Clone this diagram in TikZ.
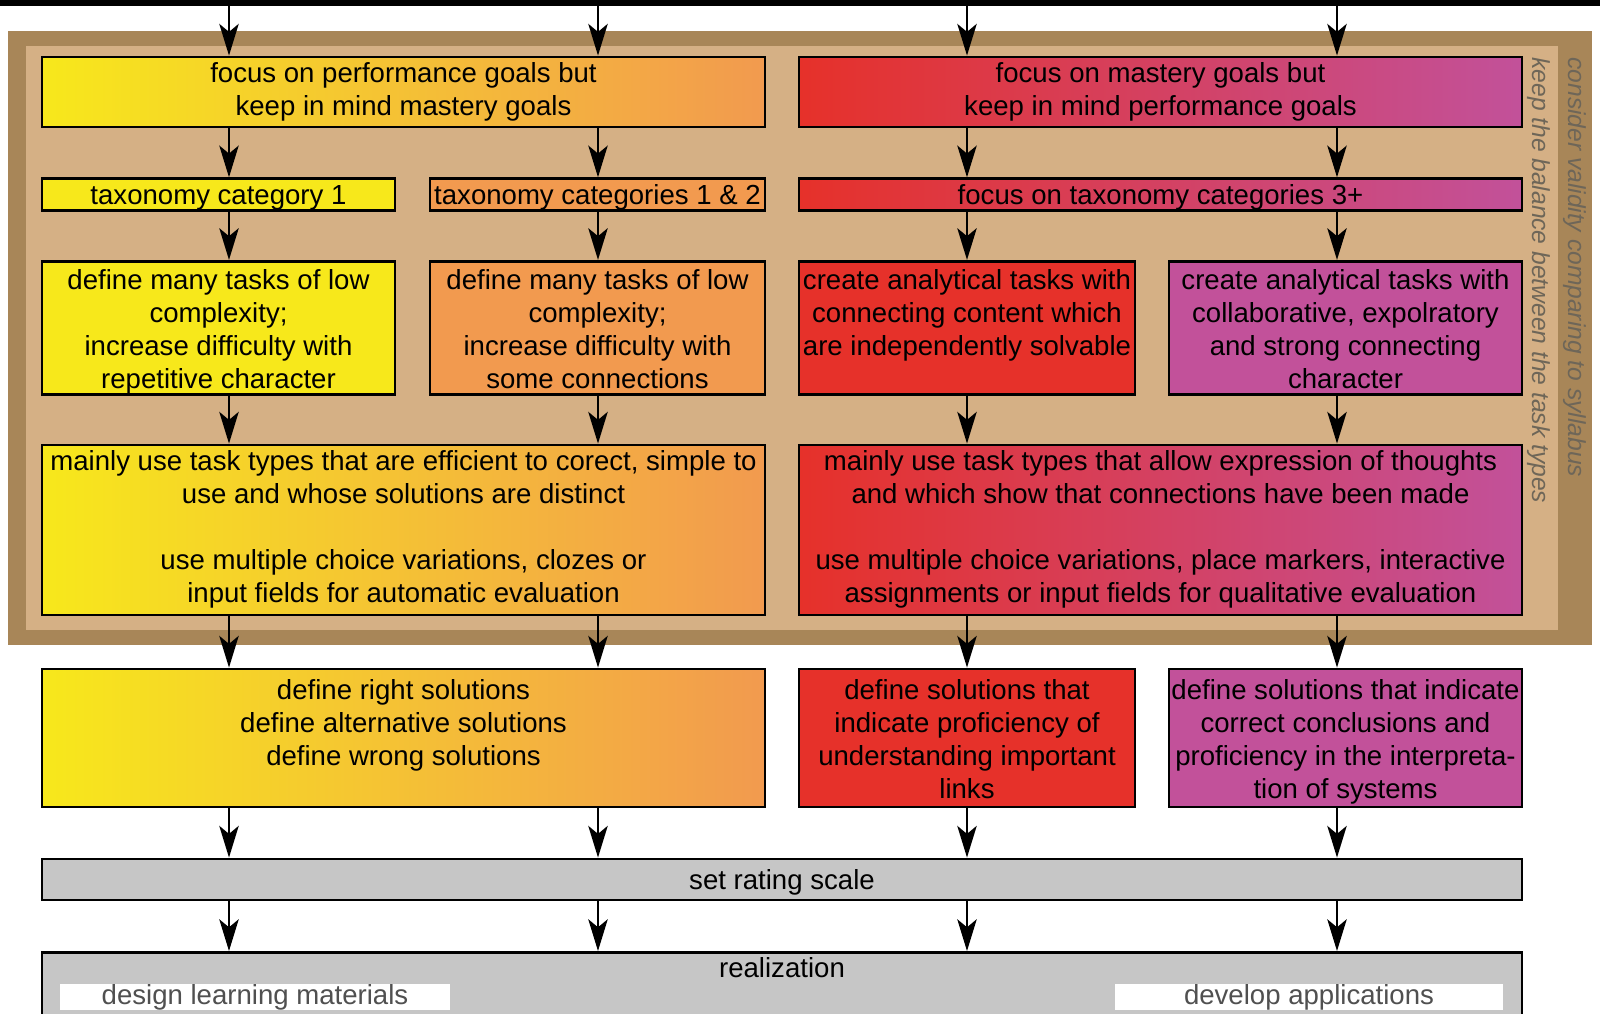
\documentclass[tikz,border=0pt]{standalone}
\usepackage{fontspec}
\setmainfont{Liberation Sans}
\usetikzlibrary{arrows.meta,positioning}

\definecolor{sunY}{HTML}{F7E81B}
\definecolor{tangerine}{HTML}{F29A4F}
\definecolor{crimson}{HTML}{E6312A}
\definecolor{orchid}{HTML}{C2519A}
\definecolor{frameDark}{HTML}{A88658}
\definecolor{frameLight}{HTML}{D5B085}
\definecolor{scaleGray}{HTML}{C6C6C6}
\definecolor{noteGray}{HTML}{6E6658}
\definecolor{subGray}{HTML}{505050}

\newcommand\boxstrut{\rule[-3.5pt]{0pt}{18pt}}
\newcommand\toprow{\rule{0pt}{16pt}}

\begin{document}
\begin{tikzpicture}[
  x = 0.02cm, y = -0.02cm,
  > = {Stealth[length=18pt,width=11pt,inset=4.5pt]},
  font = \fontsize{15.7}{18.8}\selectfont,
  box/.style 2 args = {draw, line width=1.6pt, align=center, inner sep=0pt,
    minimum width=#1*0.02cm, minimum height=#2*0.02cm,
    execute at begin node=\boxstrut, execute at end node=\boxstrut},
  perf/.style = {left color=sunY, right color=tangerine},
  mast/.style = {left color=crimson, right color=orchid},
  sub box/.style = {fill=white, text=subGray, inner sep=0pt,
    minimum width=#1*0.02cm, minimum height=26*0.02cm},
  side note/.style = {rotate=-90, anchor=west, text=noteGray, inner sep=0pt,
    font=\fontsize{14}{16}\selectfont\itshape},
  flow/.style = {->, line width=1.6pt}
  ]
  \clip (0,0) rectangle (1600,1014);
  \fill[black] (0,0) rectangle (1600,6);

  % frame round the planning steps
  \fill[frameDark] (8,31) rectangle (1592,645);
  \fill[frameLight] (26,46) rectangle (1558,630);
  \node[side note] (balance) at (1539,57) {keep the balance between the task types};
  \node[side note] (validity) at (1575,57) {consider validity comparing to syllabus};

  % goals
  \node[box={723}{70},perf] (L1) at (403.5,92) {focus on performance goals but\\keep in mind mastery goals};
  \node[box={723}{70},mast] (R1) at (1160.5,92) {focus on mastery goals but\\keep in mind performance goals};

  % taxonomy
  \node[box={353}{31},fill=sunY] (T1) at (218.5,194.5) {taxonomy category 1};
  \node[box={335}{31},fill=tangerine] (T2) at (597.5,194.5) {taxonomy categories 1 \& 2};
  \node[box={723}{31},mast] (T3) at (1160.5,194.5) {focus on taxonomy categories 3+};

  % tasks
  \node[box={353}{132},fill=sunY] (D1) at (218.5,328) {\toprow define many tasks of low\\complexity;\\increase difficulty with\\repetitive character};
  \node[box={335}{132},fill=tangerine] (D2) at (597.5,328) {\toprow define many tasks of low\\complexity;\\increase difficulty with\\some connections};
  \node[box={336}{132},fill=crimson] (D3) at (967,328) {\toprow create analytical tasks with\\connecting content which\\are independently solvable\\\mbox{}};
  \node[box={353}{132},fill=orchid] (D4) at (1345.5,328) {\toprow create analytical tasks with\\collaborative, expolratory\\and strong connecting\\character};

  % task types
  \node[box={723}{170},perf] (M1) at (403.5,530) {mainly use task types that are efficient to corect, simple to\\use and whose solutions are distinct\\[18.8pt]use multiple choice variations, clozes or\\input fields for automatic evaluation};
  \node[box={723}{170},mast] (M2) at (1160.5,530) {mainly use task types that allow expression of thoughts\\and which show that connections have been made\\[18.8pt]use multiple choice variations, place markers, interactive\\assignments or input fields for qualitative evaluation};

  % solutions
  \node[box={723}{138},perf] (S1) at (403.5,738) {\toprow define right solutions\\define alternative solutions\\define wrong solutions\\\mbox{}};
  \node[box={336}{138},fill=crimson] (S3) at (967,738) {\toprow define solutions that\\indicate proficiency of\\understanding important\\links};
  \node[box={353}{138},fill=orchid] (S4) at (1345.5,738) {\toprow define solutions that indicate\\correct conclusions and\\proficiency in the interpreta-\\tion of systems};

  \node[box={1480}{41},fill=scaleGray] (rating) at (782,879.5) {set rating scale};
  \node[box={1480}{100},fill=scaleGray,anchor=north] (real) at (782,951) {};
  \node (reallabel) at (782,968) {realization};
  \node[sub box=390] (design) at (255,997) {design learning materials};
  \node[sub box=388] (develop) at (1309,997) {develop applications};

  % arrow columns
  \coordinate (cA) at (229,0);
  \coordinate (cB) at (598,0);
  \coordinate (cC) at (967,0);
  \coordinate (cD) at (1337,0);

  \foreach \c/\t in {cA/L1, cB/L1, cC/R1, cD/R1}
    \draw[flow] (\c) -- (\t.north -| \c);
  \foreach \c/\s/\t in {cA/L1/T1, cB/L1/T2, cC/R1/T3, cD/R1/T3,
                        cA/T1/D1, cB/T2/D2, cC/T3/D3, cD/T3/D4,
                        cA/D1/M1, cB/D2/M1, cC/D3/M2, cD/D4/M2,
                        cA/M1/S1, cB/M1/S1, cC/M2/S3, cD/M2/S4,
                        cA/S1/rating, cB/S1/rating, cC/S3/rating, cD/S4/rating,
                        cA/rating/real, cB/rating/real, cC/rating/real, cD/rating/real}
    \draw[flow] (\s.south -| \c) -- (\t.north -| \c);
\end{tikzpicture}
\end{document}
